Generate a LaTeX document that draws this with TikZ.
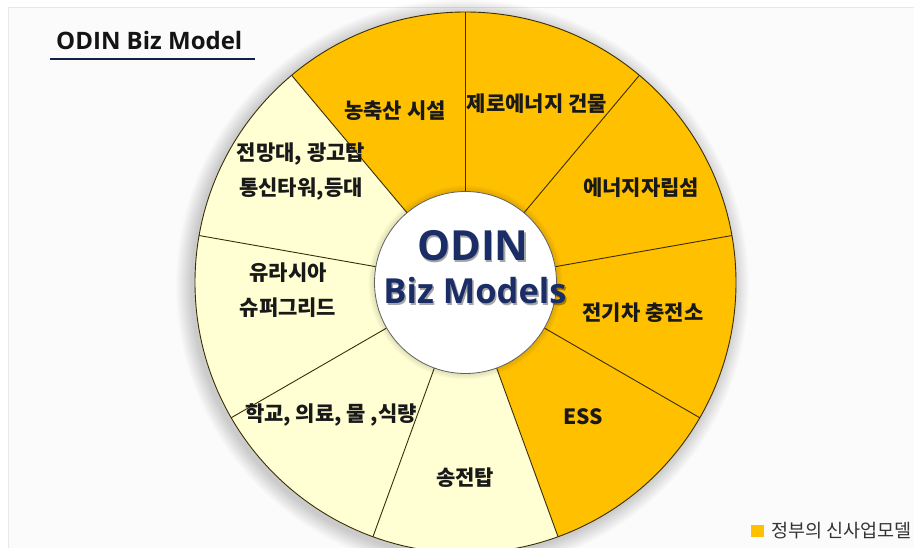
\documentclass[tikz,border=0pt]{standalone}
\usepackage{fontspec}
\newfontfamily\kr{Noto Sans CJK KR}
\newfontfamily\ns{Open Sans}
\definecolor{gold}{HTML}{FFC000}
\definecolor{cream}{HTML}{FFFFD3}
\definecolor{navy}{HTML}{1B2D66}
\definecolor{rim}{HTML}{3A2E05}
\definecolor{hubedge}{HTML}{C0C8DA}
\pgfdeclareradialshading{hubshade}{\pgfpoint{0bp}{0bp}}{color(0bp)=(white); color(30bp)=(white); color(42bp)=(hubedge!50); color(50bp)=(hubedge)}
\begin{document}
\begin{tikzpicture}[x=1pt,y=1pt,
  seglabel/.style={font=\kr\bfseries\fontsize{21}{35}\selectfont, text=black!90,
    align=center, inner sep=0pt, text height=0.83em, text depth=0.07em},
  hubtext/.style={text=navy, inner sep=0pt, anchor=base},
  hubshadow/.style={text=black, opacity=0.35, inner sep=0pt, anchor=base},
  divider/.style={rim, line width=0.9pt}]
\clip (0,0) rectangle (914,547);
\fill[white] (0,0) rectangle (914,547);
% panel
\filldraw[fill=gray!3, draw=gray!18, line width=0.8pt] (8,540) rectangle (930,-10);

% title
\node[anchor=base west, inner sep=0pt, font=\ns\bfseries\fontsize{24}{27}\selectfont, text=black!92]
  (title) at (56,497) {ODIN Biz Model};
\draw[navy!70!black, line width=1.3pt] (50,488) -- (255,488);

\coordinate (c) at (465.5,264.5);

% soft shadow behind the wheel
\foreach \i in {1,...,16}
  \fill[black, opacity=0.011] ([shift={(-3,-3)}]c) circle ({270.5+\i});

% wedges
\foreach \a/\col in {90/gold, 50/gold, 10/gold, -30/gold, -70/gold,
                     -110/cream, -150/cream, 170/cream, 130/cream}
  \fill[\col] (c) -- ++(\a:270.5) arc[start angle=\a, delta angle=40, radius=270.5] -- cycle;

% dividers and rim
\foreach \a in {90,50,10,-30,-70,-110,-150,170,130}
  \draw[divider] ([shift={(\a:91)}]c) -- ([shift={(\a:270.5)}]c);
\draw[divider] (c) circle (270.5);

% hub
\foreach \i in {1,...,6}
  \fill[black, opacity=0.02] (c) circle ({91+\i});
\shadedraw[shading=hubshade, draw=gray!75!black, line width=0.8pt] (c) circle (91);

\node[hubshadow, font=\ns\bfseries\fontsize{41.5}{46}\selectfont] at (474.5,284.5) {ODIN};
\node[hubtext, font=\ns\bfseries\fontsize{41.5}{46}\selectfont] (odin) at (473,286) {ODIN};
\node[hubshadow, font=\ns\bfseries\fontsize{34.5}{40}\selectfont] at (476.5,241.5) {Biz Models};
\node[hubtext, font=\ns\bfseries\fontsize{34.5}{40}\selectfont] (biz) at (475,243) {Biz Models};

% segment labels
\node[seglabel] (farm)   at (395,432) {농축산 시설};
\node[seglabel] (zero)   at (537,439) {제로에너지 건물};
\node[seglabel] (island) at (641,355) {에너지자립섬};
\node[seglabel] (ev)     at (643,230) {전기차 충전소};
\node[seglabel] (ess)    at (583,126) {ESS};
\node[seglabel] (tower)  at (465,65)  {송전탑};
\node[seglabel] (public) at (331,129) {학교, 의료, 물 ,식량};
\node[seglabel] (grid)   at (288,235) {유라시아\\슈퍼그리드};
\node[seglabel] (view)   at (301,355) {전망대, 광고탑\\통신타워,등대};

% legend
\fill[gold] (751,10) rectangle (764,22);
\node[anchor=west, inner sep=0pt, font=\kr\fontsize{18.5}{21}\selectfont, text=black!80]
  (legend) at (771,16) {정부의 신사업모델};
\end{tikzpicture}
\end{document}
